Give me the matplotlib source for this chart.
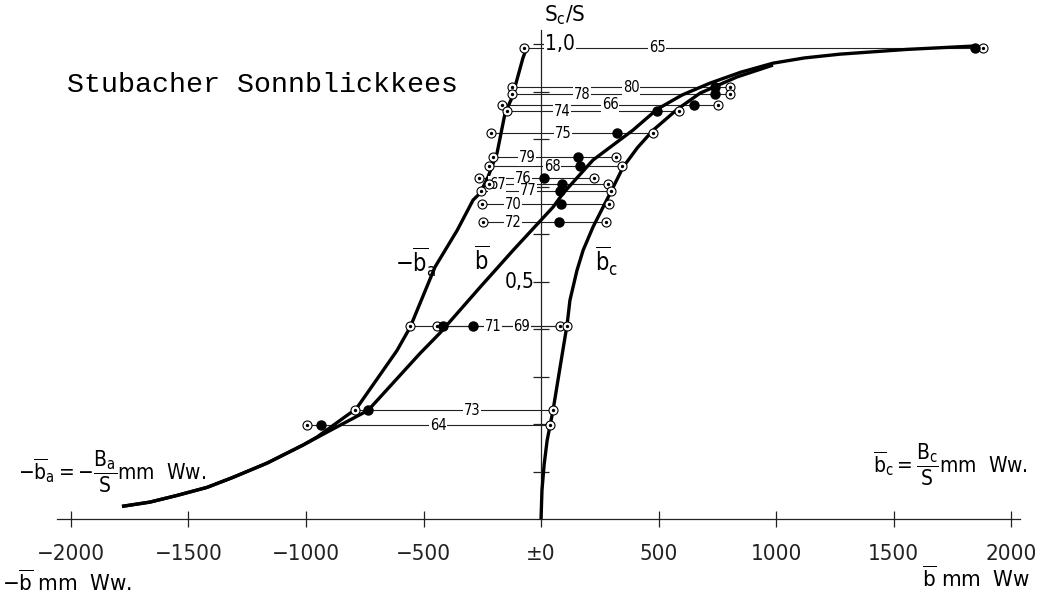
import matplotlib
matplotlib.use("Agg")
import matplotlib.pyplot as plt
from matplotlib import font_manager

# years, Sc/S and the three balance values per year (mm w.e.)
years = ['65', '80', '78', '66', '74', '75', '79', '68', '76', '67', '77', '70', '72', '71', '69', '73', '64']
sc_s = [0.992, 0.909, 0.895, 0.872, 0.859, 0.813, 0.762, 0.743, 0.718, 0.705, 0.691, 0.663, 0.625,
        0.406, 0.406, 0.229, 0.198]
neg_ba = [-72, -123, -123, -166, -145, -213, -204, -221, -264, -221, -255, -251, -247, -557, -443, -791, -996]
b_net = [1847, 740, 740, 651, 494, 323, 157, 166, 13, 89, 81, 85, 77, -289, -417, -736, -936]
b_acc = [1881, 804, 804, 753, 587, 477, 319, 345, 226, 285, 298, 289, 277, 81, 111, 51, 38]

# where the year number sits on its line
label_x = [494, 383, 174, 294, 89, 94, -60, 47, -77, -187, -55, -119, -119, -204, -81, -294, -438]

# the three fitted curves
ba_x = [-1783, -1664, -1549, -1421, -1311, -1166, -1013, -953, -813, -791, -613, -557, -451, -357, -289,
        -260, -226, -187, -153, -123, -77, -68]
ba_y = [0.027, 0.036, 0.05, 0.067, 0.088, 0.118, 0.156, 0.173, 0.223, 0.229, 0.355, 0.404, 0.531, 0.608,
        0.672, 0.686, 0.72, 0.771, 0.855, 0.888, 0.971, 0.983]
b_x = [-1783, -1664, -1549, -1421, -1311, -1166, -1013, -885, -736, -515, -430, -260, -119, 51, 94, 221,
       391, 494, 600, 719, 850, 987, 1120, 1272, 1557, 1838]
b_y = [0.027, 0.036, 0.05, 0.067, 0.088, 0.118, 0.156, 0.19, 0.229, 0.349, 0.392, 0.488, 0.566, 0.657,
       0.686, 0.756, 0.819, 0.863, 0.893, 0.918, 0.941, 0.96, 0.971, 0.979, 0.989, 0.996]
bc_x = [0, 4, 13, 26, 51, 81, 111, 123, 153, 179, 221, 264, 294, 349, 410, 477, 580, 677, 834, 987]
bc_y = [0, 0.061, 0.114, 0.166, 0.229, 0.32, 0.41, 0.461, 0.524, 0.566, 0.615, 0.657, 0.686, 0.741, 0.782,
        0.819, 0.863, 0.897, 0.931, 0.956]

xticks = [-2000, -1500, -1000, -500, 0, 500, 1000, 1500, 2000]
xtick_labels = ['\u22122000', '\u22121500', '\u22121000', '\u2212500', '\u00b10', '500', '1000', '1500', '2000']
yticks = [0.1, 0.2, 0.3, 0.4, 0.5, 0.6, 0.7, 0.8, 0.9, 1.0]

avail = {f.name for f in font_manager.fontManager.ttflist}
narrow = 'Liberation Sans Narrow' if 'Liberation Sans Narrow' in avail else 'DejaVu Sans'
plt.rcParams['font.family'] = [narrow, 'DejaVu Sans']
plt.rcParams['font.stretch'] = 'condensed'
plt.rcParams['mathtext.default'] = 'regular'

fig = plt.figure(figsize=(10.4, 5.99), dpi=100)
ax = fig.add_axes([0, 0, 1, 1])
ax.set_xlim(-2302, 2123)
ax.set_ylim(-0.168, 1.093)

for s in ['top', 'right']:
    ax.spines[s].set_visible(False)
ax.spines['bottom'].set_position(('data', 0))
ax.spines['bottom'].set_bounds(-2060, 2040)
ax.spines['left'].set_position(('data', 0))
ax.spines['left'].set_bounds(0, 1.03)
for s in ['bottom', 'left']:
    ax.spines[s].set_linewidth(0.9)
    ax.spines[s].set_color('#222222')

ax.set_xticks(xticks)
ax.set_xticklabels(xtick_labels)
ax.set_yticks(yticks)
ax.set_yticklabels([])
ax.tick_params(axis='x', direction='inout', length=12, width=0.9, pad=12, labelsize=16, colors='#222222')
ax.tick_params(axis='y', direction='inout', length=12, width=0.9, colors='#222222')

# curves
for cx, cy in [(ba_x, ba_y), (b_x, b_y), (bc_x, bc_y)]:
    ax.plot(cx, cy, color='black', lw=2.4, zorder=3, solid_capstyle='butt', solid_joinstyle='round')

# yearly connector lines with labels
for i, yr in enumerate(years):
    y = sc_s[i]
    ax.plot([neg_ba[i], b_acc[i]], [y, y], color='#222222', lw=0.8, zorder=2)
    ax.text(label_x[i], y, yr, ha='center', va='center', fontsize=10.5, zorder=4,
            bbox=dict(facecolor='white', edgecolor='none', pad=0.6))

# markers: hollow with a centre dot for -ba and bc, filled for b
hollow_x = neg_ba + b_acc
hollow_y = sc_s + sc_s
ax.plot(hollow_x, hollow_y, 'o', ms=6.5, mfc='white', mec='black', mew=0.8, zorder=5)
ax.plot(hollow_x, hollow_y, 'o', ms=1.4, color='black', zorder=6)
ax.plot(b_net, sc_s, 'o', ms=6.5, color='black', zorder=5)

# axis texts
ax.text(102, 1.061, 'S$_c$/S', ha='center', va='center', fontsize=16)
ax.text(17, 1.0, '1,0', ha='left', va='center', fontsize=15, zorder=4,
        bbox=dict(facecolor='white', edgecolor='none', pad=1))
ax.text(-26, 0.5, '0,5', ha='right', va='center', fontsize=15)

ax.text(-2017, 0.914, 'Stubacher Sonnblickkees', ha='left', va='center', fontsize=20.4,
        family=['Liberation Mono', 'DejaVu Sans Mono'])

ax.text(-532, 0.541, r'$-\overline{b}_a$', ha='center', va='center', fontsize=17)
ax.text(-251, 0.543, r'$\overline{b}$', ha='center', va='center', fontsize=17)
ax.text(277, 0.543, r'$\overline{b}_c$', ha='center', va='center', fontsize=17)

ax.text(-2226, 0.099, r'$-\overline{b}_a = -\dfrac{B_a}{S}$mm  Ww.', ha='left', va='center', fontsize=15)
ax.text(2072, 0.114, r'$\overline{b}_c = \dfrac{B_c}{S}$mm  Ww.', ha='right', va='center', fontsize=15)
ax.text(-2294, -0.133, r'$-\overline{b}$ mm  Ww.', ha='left', va='center', fontsize=16)
ax.text(2081, -0.124, r'$\overline{b}$ mm  Ww', ha='right', va='center', fontsize=16)

fig.savefig('out.png', dpi=100, facecolor='white')
